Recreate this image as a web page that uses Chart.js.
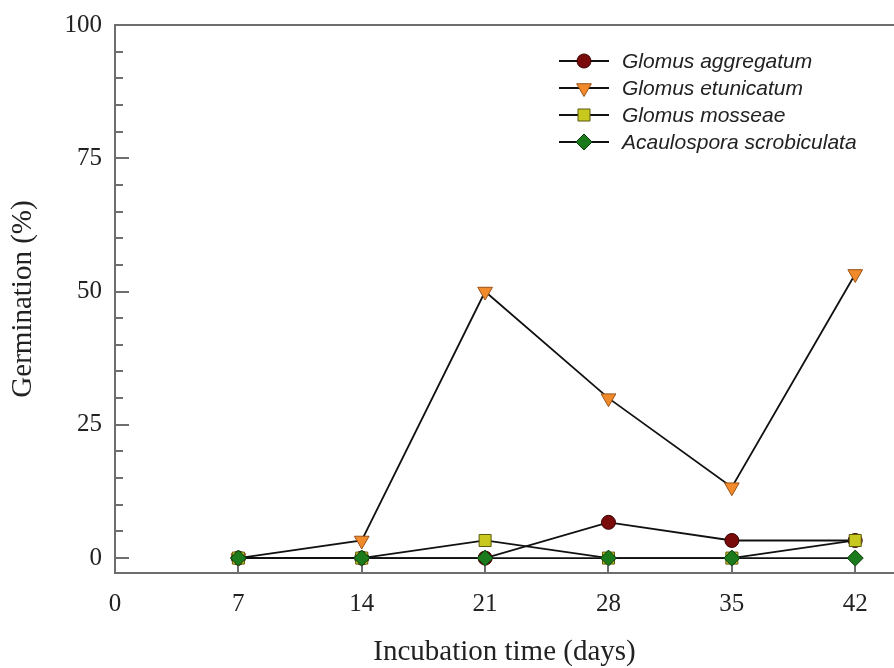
<!DOCTYPE html>
<html>
<head>
<meta charset="utf-8">
<script src="https://cdn.jsdelivr.net/npm/chart.js@4.4.1/dist/chart.umd.min.js"></script>
<style>
html,body{margin:0;padding:0;background:#fff;}
#wrap{width:894px;height:668px;position:relative;}
</style>
</head>
<body>
<div id="wrap"><canvas id="c" width="894" height="668"></canvas></div>
<script>
const days = [7, 14, 21, 28, 35, 42];
const aggregatum = [0, 0, 0, 6.7, 3.3, 3.3];
const etunicatum = [0, 3.3, 50, 30, 13.3, 53.3];
const mosseae = [0, 0, 3.3, 0, 0, 3.3];
const acaulospora = [0, 0, 0, 0, 0, 0];
const seriesNames = ['Glomus aggregatum', 'Glomus etunicatum', 'Glomus mosseae', 'Acaulospora scrobiculata'];
const xTicks = [0, 7, 14, 21, 28, 35, 42];
const yTicks = [0, 25, 50, 75, 100];
const yMinorStep = 5;

const AXIS = '#6e6e6e';
const styles = [
  {bg:'#7a0b0b', bd:'#3a0000', ps:'circle', r:7, rot:0},
  {bg:'#f08a2a', bd:'#9a5218', ps:'triangle', r:8.5, rot:180},
  {bg:'#c9c81f', bd:'#5a5a10', ps:'rect', r:8.5, rot:0},
  {bg:'#1b7a1b', bd:'#0a3a0a', ps:'rectRot', r:8, rot:0}
];
const seriesVals = [aggregatum, etunicatum, mosseae, acaulospora];

function mk(i){
  const s = styles[i];
  return {
    label: seriesNames[i],
    data: days.map((d,k)=>({x:d, y:seriesVals[i][k]})),
    showLine: true,
    borderColor: '#111',
    borderWidth: 1.8,
    pointStyle: s.ps,
    pointRotation: s.rot,
    pointRadius: s.r,
    pointBackgroundColor: s.bg,
    pointBorderColor: s.bd,
    pointBorderWidth: 1,
    clip: false,
    order: 4 - i
  };
}

const framePlugin = {
  id:'frame',
  afterDraw(chart){
    const ctx = chart.ctx, ca = chart.chartArea;
    const xs = chart.scales.x, ys = chart.scales.y;
    ctx.save();
    ctx.strokeStyle = AXIS; ctx.lineWidth = 2;
    ctx.beginPath(); ctx.moveTo(ca.left-1, ys.getPixelForValue(100)); ctx.lineTo(chart.width, ys.getPixelForValue(100)); ctx.stroke();
    for(let v=0; v<100; v+=yMinorStep){
      const y = Math.round(ys.getPixelForValue(v));
      const len = (v % 25 === 0) ? 14 : 8;
      ctx.beginPath(); ctx.moveTo(ca.left, y); ctx.lineTo(ca.left+len, y); ctx.stroke();
    }
    xTicks.forEach(v=>{
      if(v===0) return;
      const x = Math.round(xs.getPixelForValue(v));
      ctx.beginPath(); ctx.moveTo(x, ca.bottom); ctx.lineTo(x, ca.bottom-7); ctx.stroke();
    });
    ctx.restore();
  }
};

const legendPlugin = {
  id:'customLegend',
  afterDraw(chart){
    const ctx = chart.ctx;
    const x0 = 559, x1 = 609, mx = 584, tx = 622;
    const rows = [61, 88, 115, 142];
    ctx.save();
    seriesNames.forEach((n,i)=>{
      const s = styles[i], y = rows[i];
      ctx.strokeStyle = '#111'; ctx.lineWidth = 1.8;
      ctx.beginPath(); ctx.moveTo(x0,y); ctx.lineTo(x1,y); ctx.stroke();
      ctx.fillStyle = s.bg; ctx.strokeStyle = s.bd; ctx.lineWidth = 1;
      Chart.helpers.drawPoint(ctx, {pointStyle:s.ps, radius:s.r, borderWidth:1, rotation:s.rot}, mx, y);
      ctx.fillStyle = '#222';
      ctx.font = 'italic 21px "Liberation Sans", Arial, sans-serif';
      ctx.textBaseline = 'middle'; ctx.textAlign = 'left';
      ctx.fillText(n, tx, y+1);
    });
    ctx.restore();
  }
};

new Chart(document.getElementById('c'), {
  type: 'scatter',
  data: { datasets: [0,1,2,3].map(mk) },
  options: {
    responsive: false,
    animation: false,
    layout: { autoPadding: false, padding: { top: 25, right: 0, bottom: 0, left: 0 } },
    plugins: { legend: { display: false }, tooltip: { enabled: false } },
    scales: {
      x: {
        type: 'linear', min: 0, max: 44.2,
        afterBuildTicks(s){ s.ticks = xTicks.map(v=>({value:v})); },
        afterFit(s){ s.height = 95; s.paddingRight = 0; },
        grid: { display: false, drawTicks: false },
        border: { color: AXIS, width: 2 },
        ticks: { padding: 16, color: '#222', font: { family: '"Liberation Serif", "Times New Roman", serif', size: 25 }, maxRotation: 0 },
        title: { display: true, text: 'Incubation time (days)', color: '#222', padding: {top:0, bottom:0},
                 font: { family: '"Liberation Serif", "Times New Roman", serif', size: 29, lineHeight: 1.05 } }
      },
      y: {
        type: 'linear', min: -2.8, max: 100,
        afterBuildTicks(s){ s.ticks = yTicks.map(v=>({value:v})); },
        afterFit(s){ s.width = 115; s.paddingTop = 0; },
        grid: { display: false, drawTicks: false },
        border: { color: AXIS, width: 2 },
        ticks: { padding: 13, color: '#222', font: { family: '"Liberation Serif", "Times New Roman", serif', size: 25 } },
        title: { display: true, text: 'Germination (%)', color: '#222', padding: {top:8, bottom:0},
                 font: { family: '"Liberation Serif", "Times New Roman", serif', size: 29, lineHeight: 1.05 } }
      }
    }
  },
  plugins: [framePlugin, legendPlugin]
});
</script>
</body>
</html>
